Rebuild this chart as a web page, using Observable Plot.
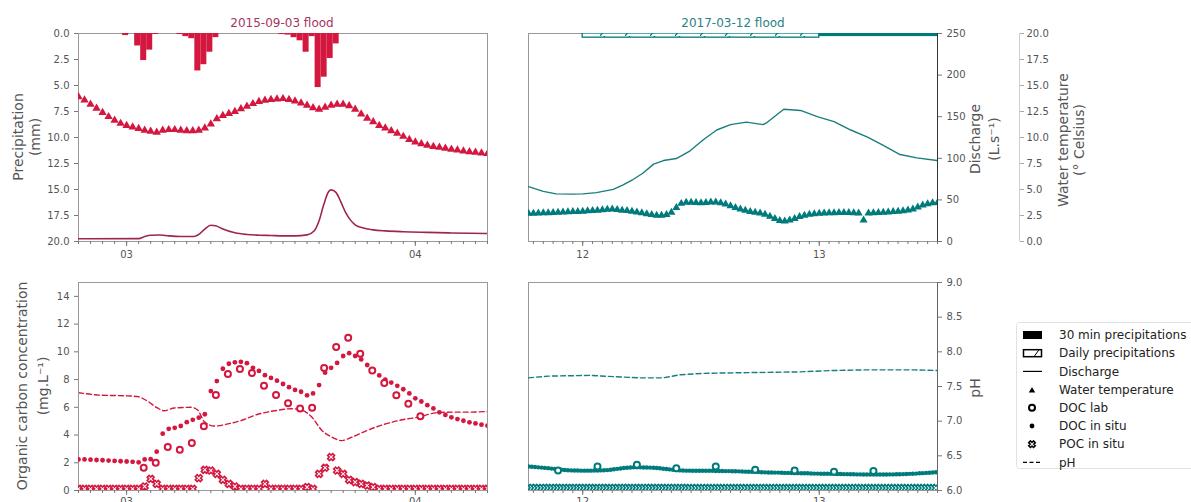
<!DOCTYPE html>
<html><head><meta charset="utf-8">
<script src="https://cdn.jsdelivr.net/npm/d3@7"></script>
<script src="https://cdn.jsdelivr.net/npm/@observablehq/plot@0.6"></script>
<style>
html,body{margin:0;padding:0;background:#fff;overflow:hidden;}
#root{position:relative;width:1191px;height:502px;overflow:hidden;font-family:"DejaVu Sans",sans-serif;}
.lbl{position:absolute;white-space:pre;text-align:center;transform:translate(-50%,-50%) rotate(-90deg);color:#555;font-size:14px;}
.ttl{position:absolute;transform:translate(-50%,-50%);font-size:12px;white-space:nowrap;}
</style></head><body><div id="root"></div>
<script>
// ---------------- DATA ----------------
// 2015-09-03 flood (hours relative to 2015-09-03 00:00 UTC)
const window2015 = ["2015-09-02T20:00Z", "2015-09-04T06:00Z"];
const precip2015Hours = [-0.33, 0.67, 1.17, 1.67, 2.17, 4.17, 4.67, 5.17, 5.67, 6.17, 6.67, 7.17, 12.67, 13.17, 13.67, 14.17, 14.67, 15.17, 15.67, 16.17, 16.67, 17.17];
const precip2015Values = [0.2, 1.2, 2.6, 1.6, 0.1, 0.1, 0.3, 0.5, 3.6, 3.0, 1.8, 0.4, 0.1, 0.15, 0.4, 0.7, 1.8, 0.3, 5.2, 4.2, 2.4, 1.0];
const discharge2015Hours = [-4, 1.0, 1.5, 2.0, 2.8, 3.5, 4.5, 5.6, 6.0, 6.5, 7.0, 7.4, 8.0, 9.0, 10.0, 11.0, 12.0, 13.0, 14.0, 15.0, 15.6, 16.0, 16.4, 16.8, 17.0, 17.4, 17.8, 18.2, 18.6, 19.0, 19.6, 20.5, 21.5, 23, 25, 27, 30];
const discharge2015Values = [3.3, 3.4, 6.0, 7.6, 7.8, 6.8, 6.0, 6.0, 8.5, 15, 19.5, 19, 15, 10.5, 8.5, 7.6, 7.2, 6.8, 6.8, 8.0, 13, 25, 45, 60, 62, 59, 48, 35, 26, 20, 16.5, 14, 12.8, 11.8, 11, 10.3, 9.6];
// half-hourly series starting at -4 h
const series2015StartHour = -4, series2015StepHour = 0.5;
const temperature2015 = [13.9, 13.6, 13.2, 12.8, 12.4, 12.0, 11.65, 11.35, 11.15, 11.0, 10.85, 10.7, 10.6, 10.5, 10.7, 10.75, 10.75, 10.7, 10.65, 10.65, 10.7, 10.9, 11.3, 11.8, 12.1, 12.3, 12.5, 12.75, 13.0, 13.25, 13.45, 13.58, 13.65, 13.7, 13.73, 13.65, 13.5, 13.3, 13.1, 12.85, 12.7, 12.9, 13.1, 13.2, 13.2, 13.05, 12.7, 12.25, 11.85, 11.5, 11.15, 10.9, 10.65, 10.4, 10.1, 9.8, 9.55, 9.4, 9.25, 9.13, 9.05, 8.95, 8.87, 8.78, 8.7, 8.63, 8.57, 8.5, 8.45];
const docInSitu2015 = [2.24, 2.24, 2.22, 2.2, 2.18, 2.16, 2.13, 2.11, 2.09, 2.07, 2.03, 2.24, 2.26, 2.8, 4.1, 4.45, 4.52, 4.65, 4.93, 5.1, 5.25, 5.5, 7.17, 7.89, 8.78, 9.14, 9.24, 9.28, 9.18, 8.85, 8.62, 8.32, 8.12, 7.92, 7.68, 7.45, 7.25, 7.12, 6.86, 7.0, 7.6, 8.5, 8.85, 9.2, 9.7, 9.9, 9.7, 9.45, 9.05, 8.7, 8.3, 8.0, 7.78, 7.55, 7.3, 7.0, 6.65, 6.42, 6.15, 5.92, 5.64, 5.45, 5.28, 5.15, 5.03, 4.92, 4.84, 4.75, 4.68];
const pocInSitu2015 = [0.12, 0.12, 0.12, 0.12, 0.12, 0.12, 0.12, 0.12, 0.12, 0.12, 0.12, 0.29, 0.84, 0.48, 0.12, 0.12, 0.12, 0.12, 0.12, 0.12, 0.89, 1.49, 1.44, 1.2, 0.77, 0.48, 0.29, 0.12, 0.12, 0.12, 0.12, 0.48, 0.12, 0.12, 0.12, 0.12, 0.12, 0.12, 0.24, 0.12, 1.2, 1.64, 2.41, 1.44, 1.2, 0.77, 0.6, 0.48, 0.36, 0.24, 0.12, 0.12, 0.12, 0.12, 0.12, 0.12, 0.12, 0.12, 0.12, 0.12, 0.12, 0.12, 0.12, 0.12, 0.12, 0.12, 0.12, 0.12, 0.12];
const docLab2015Hours = [1.42, 2.42, 3.42, 4.42, 5.42, 6.42, 7.42, 8.42, 9.42, 10.42, 11.42, 12.42, 13.42, 14.42, 15.42, 16.42, 17.42, 18.42, 19.42, 20.42, 21.42, 22.42, 23.42, 24.42];
const docLab2015Values = [1.64, 2.0, 3.13, 2.93, 3.42, 4.64, 6.88, 8.4, 8.76, 8.47, 7.55, 6.88, 6.3, 5.92, 5.97, 8.83, 10.34, 11.02, 9.86, 8.66, 7.75, 6.86, 6.25, 5.36];
const pH2015Hours = [-4, -2.17, 0.06, 0.89, 1.73, 2.56, 3.12, 3.96, 5.35, 5.91, 6.47, 7.3, 8.42, 9.53, 10.93, 12.32, 13.71, 14.55, 15.39, 16.22, 17.06, 17.9, 18.73, 20.13, 21.52, 22.91, 24.31, 25.7, 27.09, 28.49, 30];
const pH2015Values = [7.41, 7.375, 7.365, 7.356, 7.29, 7.19, 7.15, 7.19, 7.2, 7.16, 6.99, 6.93, 6.96, 7.01, 7.1, 7.15, 7.18, 7.16, 7.06, 6.87, 6.77, 6.72, 6.77, 6.875, 6.96, 7.02, 7.06, 7.12, 7.13, 7.13, 7.14];

// 2017-03-12 flood (hours relative to 2017-03-12 00:00 UTC)
const window2017 = ["2017-03-11T18:30Z", "2017-03-13T12:00Z"];
const dailyPrecip2017Days = ["2017-03-12T00:00Z", "2017-03-13T00:00Z"];
const dailyPrecip2017Values = [0.4, 0.3];
const discharge2017Hours = [-5.5, -4.0, -2.7, -1, 0, 1.4, 3.1, 4.1, 5.1, 6.1, 7.2, 8.2, 9.5, 10.9, 12.2, 13.6, 15.0, 16.6, 18.3, 18.7, 20.4, 22.1, 23.8, 25.5, 27.2, 28.9, 30.5, 32.2, 33.9, 36];
const discharge2017Values = [66, 60.3, 57.2, 57, 57.3, 58.8, 62.7, 68, 74.5, 82, 93, 97.3, 99.7, 109, 122, 134, 140.5, 143.5, 140.5, 143, 159, 157.5, 150, 144, 134, 125.5, 115.5, 104.5, 100.5, 97.3];
const temp2017StartHour = -5.5, temp2017StepHour = 0.5;
const temperature2017 = [2.7, 2.7, 2.72, 2.74, 2.76, 2.78, 2.8, 2.82, 2.84, 2.86, 2.88, 2.9, 2.93, 2.97, 3.0, 3.04, 3.08, 3.1, 3.06, 3.0, 2.96, 2.9, 2.82, 2.74, 2.66, 2.58, 2.52, 2.52, 2.57, 2.8, 3.25, 3.65, 3.75, 3.76, 3.74, 3.72, 3.74, 3.78, 3.78, 3.7, 3.58, 3.42, 3.25, 3.1, 2.98, 2.88, 2.8, 2.72, 2.6, 2.42, 2.2, 2.0, 1.95, 2.05, 2.2, 2.38, 2.5, 2.6, 2.66, 2.7, 2.72, 2.74, 2.76, 2.77, 2.77, 2.77, 2.75, 2.72, 2.06, 2.72, 2.75, 2.78, 2.8, 2.83, 2.86, 2.9, 2.95, 3.02, 3.1, 3.3, 3.5, 3.62, 3.7, 3.73];
const insitu2017StartHour = -5.5, insitu2017StepHour = 1 / 3;
const docInSitu2017 = [1.73, 1.71, 1.69, 1.67, 1.65, 1.63, 1.61,
  1.58, 1.56, 1.53, 1.5, 1.48, 1.46,
  1.45, 1.44, 1.44, 1.43, 1.43, 1.43,
  1.43, 1.44, 1.44, 1.45, 1.46, 1.47,
  1.5, 1.53, 1.56, 1.59, 1.62, 1.64,
  1.66, 1.67, 1.67, 1.67, 1.66, 1.66,
  1.65, 1.64, 1.62, 1.6, 1.57, 1.55,
  1.52, 1.5, 1.47, 1.45, 1.44, 1.43,
  1.43, 1.42, 1.42, 1.42, 1.42, 1.42,
  1.42, 1.42, 1.41, 1.41, 1.41, 1.4,
  1.4, 1.39, 1.39, 1.38, 1.37, 1.36,
  1.35, 1.35, 1.34, 1.33, 1.32, 1.31,
  1.3, 1.3, 1.29, 1.29, 1.28, 1.27,
  1.27, 1.26, 1.25, 1.25, 1.24, 1.24,
  1.24, 1.23, 1.22, 1.22, 1.21, 1.21,
  1.21, 1.2, 1.2, 1.19, 1.19, 1.18,
  1.18, 1.17, 1.17, 1.16, 1.16, 1.15,
  1.15, 1.15, 1.15, 1.15, 1.15, 1.15,
  1.15, 1.16, 1.16, 1.17, 1.17, 1.18,
  1.19, 1.2, 1.21, 1.22, 1.24, 1.25,
  1.27, 1.28, 1.3, 1.32];
const pocInSitu2017 = [0.19, 0.19, 0.19, 0.19, 0.19, 0.19, 0.19,
  0.19, 0.19, 0.19, 0.19, 0.19, 0.19,
  0.19, 0.19, 0.19, 0.19, 0.19, 0.19,
  0.19, 0.19, 0.19, 0.19, 0.19, 0.19,
  0.19, 0.19, 0.19, 0.19, 0.19, 0.19,
  0.19, 0.19, 0.19, 0.19, 0.19, 0.19,
  0.19, 0.19, 0.19, 0.19, 0.19, 0.19,
  0.19, 0.19, 0.19, 0.19, 0.19, 0.19,
  0.18, 0.18, 0.18, 0.18, 0.18, 0.18,
  0.18, 0.18, 0.18, 0.18, 0.18, 0.18,
  0.18, 0.18, 0.18, 0.18, 0.18, 0.18,
  0.18, 0.18, 0.18, 0.18, 0.18, 0.18,
  0.18, 0.18, 0.18, 0.18, 0.18, 0.18,
  0.18, 0.18, 0.18, 0.18, 0.18, 0.18,
  0.18, 0.18, 0.18, 0.18, 0.18, 0.18,
  0.18, 0.18, 0.18, 0.18, 0.18, 0.18,
  0.18, 0.18, 0.18, 0.18, 0.18, 0.18,
  0.18, 0.18, 0.18, 0.18, 0.18, 0.18,
  0.18, 0.18, 0.18, 0.18, 0.18, 0.18,
  0.18, 0.18, 0.18, 0.18, 0.18, 0.18,
  0.18, 0.18, 0.18, 0.18];
const docLab2017Hours = [-2.5, 1.5, 5.5, 9.5, 13.5, 17.5, 21.5, 25.5, 29.5];
const docLab2017Values = [1.44, 1.73, 1.85, 1.61, 1.73, 1.49, 1.44, 1.35, 1.4];
const pH2017Hours = [-5.5, -3.5, 0.7, 3.4, 5.8, 8.2, 9.9, 12.3, 16.7, 21.8, 25.2, 28.6, 33.7, 36];
const pH2017Values = [7.625, 7.65, 7.66, 7.64, 7.625, 7.625, 7.67, 7.69, 7.70, 7.71, 7.73, 7.74, 7.74, 7.73];

// axis tick values
const precipTicks = [0, 2.5, 5, 7.5, 10, 12.5, 15, 17.5, 20];
const dischargeTicks = [0, 50, 100, 150, 200, 250];
const temperatureTicks = [0, 2.5, 5, 7.5, 10, 12.5, 15, 17.5, 20];
const carbonTicks = [0, 2, 4, 6, 8, 10, 12, 14];
const pHTicks = [6, 6.5, 7, 7.5, 8, 8.5, 9];

const legendItems = ["30 min precipitations", "Daily precipitations", "Discharge", "Water temperature", "DOC lab", "DOC in situ", "POC in situ", "pH"];

// ---------------- BUILD ----------------
const RED = "#d4173f", RED_LINE = "#9e2749", TEAL = "#007b7b", TEAL_LINE = "#1b7d7d";
const H = 3600e3;
const base2015 = Date.UTC(2015, 8, 3), base2017 = Date.UTC(2017, 2, 12);
const at = (base, h) => new Date(base + h * H);
const reg = (base, start, step, vals) => vals.map((v, i) => ({t: at(base, start + i * step), v}));
const pairs = (base, hs, vs) => hs.map((h, i) => ({t: at(base, h), v: vs[i]}));

const precipL = precip2015Hours.map((h, i) => ({t1: at(base2015, h), t2: at(base2015, h + 0.5), mm: precip2015Values[i]}));
const dischL = pairs(base2015, discharge2015Hours, discharge2015Values);
const tempL = reg(base2015, series2015StartHour, series2015StepHour, temperature2015);
const docL = reg(base2015, series2015StartHour, series2015StepHour, docInSitu2015);
const pocL = reg(base2015, series2015StartHour, series2015StepHour, pocInSitu2015);
const labL = pairs(base2015, docLab2015Hours, docLab2015Values);
const phL = pairs(base2015, pH2015Hours, pH2015Values);

const dailyR = dailyPrecip2017Days.map((d, i) => ({t1: new Date(d), t2: new Date(new Date(d).getTime() + 24 * H), mm: dailyPrecip2017Values[i]}));
const dischR = pairs(base2017, discharge2017Hours, discharge2017Values);
const tempR = reg(base2017, temp2017StartHour, temp2017StepHour, temperature2017);
const docR = reg(base2017, insitu2017StartHour, insitu2017StepHour, docInSitu2017);
const pocR = reg(base2017, insitu2017StartHour, insitu2017StepHour, pocInSitu2017);
const labR = pairs(base2017, docLab2017Hours, docLab2017Values);
const phR = pairs(base2017, pH2017Hours, pH2017Values);

const root = document.getElementById("root");

// hatch pattern definition
const defs = d3.select(root).append("svg").attr("width", 0).attr("height", 0).style("position", "absolute");
const pat = defs.append("defs").append("pattern").attr("id", "hatch").attr("patternUnits", "userSpaceOnUse")
  .attr("width", 25).attr("height", 6);
pat.append("rect").attr("width", 25).attr("height", 6).attr("fill", "white");
pat.append("path").attr("d", "M0,6 L5,0").attr("stroke", TEAL).attr("stroke-width", 1.2);

const fatX = {draw(ctx, size) {
  const r = Math.sqrt(size / Math.PI), L = r * 1.15, w = r * 0.42, c = Math.SQRT1_2;
  const pts = [[w,-L],[w,-w],[L,-w],[L,w],[w,w],[w,L],[-w,L],[-w,w],[-L,w],[-L,-w],[-w,-w],[-w,-L]];
  pts.forEach(([x, y], i) => { const X = (x - y) * c, Y = (x + y) * c; i ? ctx.lineTo(X, Y) : ctx.moveTo(X, Y); });
  ctx.closePath();
}};

const LEFT = {ml: 78, mr: 1191 - 487};
const RIGHT = {ml: 528, mr: 1191 - 937};
const TOP = {top: 0, height: 262, mt: 33, mb: 21};
const BOT = {top: 262, height: 262, mt: 20, mb: 34};

function layer(h, v, x, y, marks) {
  const svg = Plot.plot({
    width: 1191, height: v.height, marginLeft: h.ml, marginRight: h.mr, marginTop: v.mt, marginBottom: v.mb,
    x, y, marks,
    style: `position:absolute;left:0;top:${v.top}px;background:transparent;overflow:visible;font-family:'DejaVu Sans',sans-serif;font-size:10px;color:#555;max-width:none;`
  });
  root.appendChild(svg);
  return svg;
}
function xAxes(dom, pad) {
  const a = new Date(dom[0]), b = new Date(dom[1]);
  return [
    Plot.axisX({ticks: d3.utcHour.range(a, new Date(+b + 1)), tickSize: 3, tickFormat: () => "", stroke: "#777", label: null}),
    Plot.axisX({ticks: d3.utcDay.range(a, new Date(+b + 1)), tickSize: 5, tickPadding: pad, tickFormat: d3.utcFormat("%d"), stroke: "#777", fill: "#555", label: null})
  ];
}
const xL = {type: "utc", domain: window2015.map(d => new Date(d)), label: null};
const xR = {type: "utc", domain: window2017.map(d => new Date(d)), label: null};
const xLn = {...xL, axis: null}, xRn = {...xR, axis: null};

// ---- top-left ----
layer(LEFT, TOP, xL, {domain: [0, 20], reverse: true, label: null}, [
  Plot.frame({stroke: "#999"}),
  Plot.rect(precipL, {x1: "t1", x2: "t2", y1: () => 0, y2: "mm", fill: RED, clip: true}),
  ...xAxes(window2015, 4),
  Plot.axisY({ticks: precipTicks, tickFormat: d => d.toFixed(1), tickSize: 4, stroke: "#777", label: null})
]);
layer(LEFT, TOP, xLn, {domain: [0, 250], axis: null}, [
  Plot.line(dischL, {x: "t", y: "v", stroke: RED_LINE, strokeWidth: 1.6, curve: "monotone-x", clip: true})
]);
layer(LEFT, TOP, xLn, {domain: [0, 20], axis: null}, [
  Plot.dot(tempL, {x: "t", y: "v", symbol: "triangle", r: 3.1, fill: RED, clip: true})
]);

// ---- top-right ----
layer(RIGHT, TOP, xR, {domain: [0, 20], reverse: true, axis: null}, [
  Plot.frame({stroke: "#999"}),
  Plot.rect(dailyR.slice(0, 1), {x1: "t1", x2: "t2", y1: () => 0, y2: "mm", fill: "url(#hatch)", stroke: TEAL, strokeWidth: 1.3, clip: true}),
  Plot.rect(dailyR.slice(1), {x1: "t1", x2: "t2", y1: () => 0, y2: "mm", fill: TEAL, clip: true}),
  ...xAxes(window2017, 4)
]);
layer(RIGHT, TOP, xRn, {domain: [0, 250], label: null}, [
  Plot.line(dischR, {x: "t", y: "v", stroke: TEAL_LINE, strokeWidth: 1.4, clip: true}),
  Plot.ruleX([new Date(window2017[1])], {stroke: "#333"}),
  Plot.axisY({anchor: "right", ticks: dischargeTicks, tickSize: 4, tickPadding: 5, stroke: "#777", label: null})
]);
layer(RIGHT, TOP, xRn, {domain: [0, 20], axis: null}, [
  Plot.dot(tempR, {x: "t", y: "v", symbol: "triangle", r: 3.0, fill: TEAL, clip: true})
]);
// water temperature offset axis
layer({ml: 528, mr: 1191 - 1019}, TOP, {domain: [0, 1], axis: null}, {domain: [0, 20], label: null}, [
  Plot.ruleX([1], {stroke: "#cfcfcf"}),
  Plot.axisY({anchor: "right", ticks: temperatureTicks, tickFormat: d => d.toFixed(1), tickSize: 4, tickPadding: 3, stroke: "#aaa", label: null})
]);

// ---- bottom-left ----
layer(LEFT, BOT, xLn, {domain: [6, 9], axis: null}, [
  Plot.line(phL, {x: "t", y: "v", stroke: RED, strokeWidth: 1.4, strokeDasharray: "5,3", curve: "monotone-x", clip: true})
]);
layer(LEFT, BOT, xL, {domain: [0, 15], label: null}, [
  Plot.frame({stroke: "#999"}),
  ...xAxes(window2015, 2),
  Plot.axisY({ticks: carbonTicks, tickSize: 4, stroke: "#777", label: null}),
  Plot.dot(docL, {x: "t", y: "v", r: 2.4, fill: RED, clip: true}),
  Plot.dot(labL, {x: "t", y: "v", r: 3, fill: "white", stroke: RED, strokeWidth: 2, clip: true}),
  Plot.dot(pocL, {x: "t", y: "v", symbol: fatX, r: 3.1, fill: "white", stroke: RED, strokeWidth: 1.6, clip: true})
]);

// ---- bottom-right ----
layer(RIGHT, BOT, xR, {domain: [0, 15], axis: null}, [
  Plot.frame({stroke: "#999"}),
  ...xAxes(window2017, 2),
  Plot.dot(docR, {x: "t", y: "v", r: 2.2, fill: TEAL, clip: true}),
  Plot.dot(labR, {x: "t", y: "v", r: 3, fill: "white", stroke: TEAL, strokeWidth: 2, clip: true}),
  Plot.dot(pocR, {x: "t", y: "v", symbol: fatX, r: 3, fill: "white", stroke: TEAL, strokeWidth: 1.6, clip: true})
]);
layer(RIGHT, BOT, xRn, {domain: [6, 9], label: null}, [
  Plot.line(phR, {x: "t", y: "v", stroke: TEAL_LINE, strokeWidth: 1.4, strokeDasharray: "5,3", clip: true}),
  Plot.ruleX([new Date(window2017[1])], {stroke: "#666"}),
  Plot.axisY({anchor: "right", ticks: pHTicks, tickFormat: d => d.toFixed(1), tickSize: 4, tickPadding: 5, stroke: "#777", label: null})
]);

// ---- titles & axis labels ----
function addDiv(cls, text, x, y, extra) {
  const d = document.createElement("div");
  d.className = cls; d.textContent = text;
  d.style.left = x + "px"; d.style.top = y + "px";
  Object.assign(d.style, extra || {});
  root.appendChild(d);
}
addDiv("ttl", "2015-09-03 flood", 282, 23, {color: "#a8335f"});
addDiv("ttl", "2017-03-12 flood", 733, 23, {color: "#2b8282"});
addDiv("lbl", "Precipitation\n(mm)", 27, 137, {lineHeight: "17px"});
addDiv("lbl", "Organic carbon concentration\n(mg.L\u207B\u00B9)", 33, 386, {lineHeight: "21px"});
addDiv("lbl", "Discharge\n(L.s\u207B\u00B9)", 985, 139, {lineHeight: "19px"});
addDiv("lbl", "Water temperature\n(\u00B0 Celsius)", 1071, 140, {lineHeight: "16px"});
addDiv("lbl", "pH", 975, 388, {});

// ---- legend ----
const lg = d3.select(root).append("svg").attr("width", 175).attr("height", 148)
  .style("position", "absolute").style("left", "1016px").style("top", "322px");
lg.append("rect").attr("x", 0.5).attr("y", 0.5).attr("width", 190).attr("height", 146).attr("rx", 3)
  .attr("fill", "white").attr("stroke", "#e2e2e2");
const rowY = i => 13 + i * 18.2;
legendItems.forEach((name, i) => {
  lg.append("text").attr("x", 43).attr("y", rowY(i)).attr("dy", "0.35em")
    .attr("font-family", "DejaVu Sans, sans-serif").attr("font-size", 12).attr("fill", "#222").text(name);
});
const sx = 16;
lg.append("rect").attr("x", 7).attr("y", rowY(0) - 4).attr("width", 19).attr("height", 8).attr("fill", "black");
lg.append("rect").attr("x", 7.5).attr("y", rowY(1) - 3.5).attr("width", 18).attr("height", 7).attr("fill", "white").attr("stroke", "black").attr("stroke-width", 1.5);
lg.append("path").attr("d", `M18,${rowY(1) + 3.5} L23,${rowY(1) - 3.5}`).attr("stroke", "black").attr("stroke-width", 1);
lg.append("line").attr("x1", 7).attr("x2", 26).attr("y1", rowY(2)).attr("y2", rowY(2)).attr("stroke", "black").attr("stroke-width", 1.2);
lg.append("path").attr("d", d3.symbol(d3.symbolTriangle, 18)()).attr("transform", `translate(${sx},${rowY(3) + 1})`).attr("fill", "black");
lg.append("circle").attr("cx", sx).attr("cy", rowY(4)).attr("r", 3).attr("fill", "white").attr("stroke", "black").attr("stroke-width", 2);
lg.append("circle").attr("cx", sx).attr("cy", rowY(5)).attr("r", 2.4).attr("fill", "black");
lg.append("path").attr("d", d3.symbol(fatX, Math.PI * 9)()).attr("transform", `translate(${sx},${rowY(6)})`).attr("fill", "white").attr("stroke", "black").attr("stroke-width", 1.5);
lg.append("line").attr("x1", 7).attr("x2", 26).attr("y1", rowY(7)).attr("y2", rowY(7)).attr("stroke", "black").attr("stroke-width", 1.2).attr("stroke-dasharray", "4,2.5");
</script></body></html>
